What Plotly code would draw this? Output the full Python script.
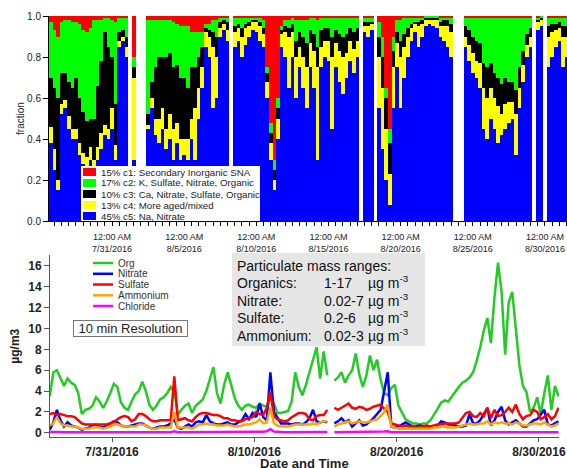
import pandas as pd
import plotly.graph_objects as go

# ---------------- data ----------------
# 6-hourly sample times (start of each interval)
times = pd.date_range("2016-07-26 15:00", periods=144, freq="6h")

N = None
# Fractions of each cluster class (top panel); None = no data
frac_c5 = [.38,.25,.15,.52,.55,.45,.40,.40,.32,.28,
           .27,.30,.25,.30,.35,.42,.40,.45,.30,.85,
           .88,.80,N,.30,N,N,N,.45,.55,.42,
           .38,.45,.35,.40,.30,.38,.30,.32,.30,.40,
           .30,.50,.65,.85,.80,.55,.60,.90,.93,.88,
           N,.85,.88,.80,.86,.90,.93,.92,.88,.85,
           .60,.30,.15,.40,.85,.80,.65,.80,.60,.75,
           .65,.55,.75,.65,.30,.75,.80,.78,.45,.75,
           .68,.62,.70,.78,.72,.80,N,.92,.90,.93,
           N,.55,.35,.20,.08,.55,.75,.55,.70,.80,
           .88,.92,.85,.90,.95,.96,.95,.94,.90,.88,
           .85,.80,N,N,N,.85,.78,.72,.70,.65,
           .45,.40,.50,.45,.38,.42,.45,.48,.50,.32,
           .55,.68,.80,.85,N,.93,.95,N,.75,.80,
           .85,.88,.75,.80]
frac_c4 = [.08,.10,.05,.05,.04,.06,.05,.05,.06,.05,
           .04,.06,.05,.06,.08,.05,.05,.10,.07,.03,
           .02,.05,N,.40,N,N,N,.02,.05,.08,
           .12,.10,.10,.12,.15,.10,.10,.08,.10,.10,
           .25,.15,.10,.07,.10,.30,.20,.04,.03,.05,
           N,.07,.06,.10,.08,.05,.04,.05,.07,.06,
           .08,.08,.05,.10,.06,.12,.25,.12,.20,.10,
           .15,.20,.12,.18,.45,.10,.08,.10,.35,.12,
           .15,.18,.12,.10,.12,.08,N,.03,.05,.03,
           N,.25,.30,.25,.15,.20,.12,.25,.15,.10,
           .06,.04,.10,.06,.03,.02,.03,.04,.05,.07,
           .10,.12,N,N,N,.05,.08,.10,.08,.12,
           .20,.20,.15,.15,.18,.10,.12,.10,.08,.20,
           .10,.08,.06,.05,N,.04,.03,N,.15,.12,
           .08,.06,.15,.10]
frac_c3 = [.24,.30,.40,.15,.13,.17,.20,.25,.22,.20,
           .18,.14,.20,.30,.35,.45,.40,.25,.20,.04,
           .03,.05,N,.05,N,N,N,.05,.08,.25,
           .30,.25,.35,.30,.30,.28,.30,.30,.25,.25,
           .20,.15,.10,.02,.03,.07,.10,.03,.02,.04,
           N,.03,.02,.04,.02,.02,.01,.01,.02,.03,
           .04,.05,.05,.05,.02,.03,.04,.04,.08,.07,
           .10,.12,.06,.08,.10,.08,.06,.06,.10,.06,
           .08,.10,.09,.06,.08,.06,N,.02,.02,.01,
           N,.10,.15,.15,.15,.08,.05,.08,.06,.04,
           .02,.01,.02,.02,.01,.01,.01,.01,.02,.03,
           .03,.04,N,N,N,.05,.07,.08,.10,.10,
           .12,.15,.12,.12,.14,.15,.13,.10,.10,.12,
           .10,.07,.05,.04,N,.01,.01,N,.05,.04,
           .03,.03,.05,.05]
frac_c2 = [.27,.28,.30,.25,.26,.30,.32,.27,.36,.40,
           .43,.44,.48,.32,.20,.07,.14,.18,.40,.07,
           .06,.09,N,.05,N,N,N,.46,.30,.23,
           .18,.18,.18,.16,.22,.20,.25,.25,.30,.17,
           .17,.12,.07,.02,.03,.06,.08,.02,.01,.02,
           N,.04,.03,.05,.03,.02,.01,.01,.02,.04,
           .03,.05,.05,.05,.02,.03,.04,.03,.10,.06,
           .08,.11,.06,.08,.13,.06,.05,.05,.09,.06,
           .08,.09,.08,.05,.07,.05,N,.02,.02,.02,
           N,.07,.10,.05,.07,.07,.06,.10,.08,.05,
           .03,.02,.02,.01,.01,.01,.01,.01,.02,.01,
           .01,.03,N,N,N,.04,.06,.09,.11,.12,
           .22,.24,.22,.27,.29,.32,.29,.31,.31,.35,
           .24,.16,.08,.05,N,.01,.01,N,.04,.03,
           .03,.02,.04,.04]
frac_c1 = [.03,.07,.10,.03,.02,.02,.03,.03,.04,.07,
           .08,.06,.02,.02,.02,.01,.01,.02,.03,.01,
           .01,.01,N,.20,N,N,N,.02,.02,.02,
           .02,.02,.02,.02,.03,.04,.05,.05,.05,.08,
           .08,.08,.08,.04,.04,.02,.02,.01,.01,.01,
           N,.01,.01,.01,.01,.01,.01,.01,.01,.02,
           .25,.52,.70,.40,.05,.02,.02,.01,.02,.02,
           .02,.02,.01,.01,.02,.01,.01,.01,.01,.01,
           .01,.01,.01,.01,.01,.01,N,.01,.01,.01,
           N,.03,.10,.35,.55,.10,.02,.02,.01,.01,
           .01,.01,.01,.01,0,0,0,0,.01,.01,
           .01,.01,N,N,N,.01,.01,.01,.01,.01,
           .01,.01,.01,.01,.01,.01,.01,.01,.01,.01,
           .01,.01,.01,.01,N,.01,0,N,.01,.01,
           .01,.01,.01,.01]

# Mass concentrations (bottom panel), ug/m3
org = [3.5,5.8,6.0,5.2,4.5,5.2,4.8,4.6,3.8,1.8,
       2.2,2.3,2.6,3.4,3.0,2.4,3.0,3.8,4.7,4.4,
       2.9,2.4,2.2,3.0,3.7,4.0,4.9,4.0,2.7,2.2,
       2.6,3.2,3.4,3.8,4.4,4.0,1.7,2.2,2.6,2.8,
       1.9,2.6,2.9,3.2,4.0,5.1,6.3,3.8,2.8,4.6,
       5.8,4.6,3.3,2.6,2.2,2.6,2.7,2.5,2.4,2.8,
       2.6,2.5,3.4,2.8,1.9,1.9,2.0,2.1,3.0,5.8,
       4.4,3.6,4.6,5.8,6.8,8.2,5.2,7.8,5.5,N,
       5.0,5.3,5.8,4.8,5.5,6.0,7.6,5.6,4.4,5.5,
       7.4,6.0,7.0,5.1,3.8,3.6,4.3,4.6,2.6,1.9,
       1.3,1.1,0.9,0.9,0.8,0.9,0.9,1.2,1.7,2.3,
       2.9,3.1,3.0,3.5,4.0,4.4,4.8,5.0,5.3,5.8,
       6.9,8.2,9.8,11.0,8.6,13.0,16.3,13.5,7.5,12.5,
       13.5,10.0,6.5,4.5,3.9,2.0,2.4,3.4,1.8,3.8,
       5.5,2.2,4.5,3.5]
nitrate = [0.3,1.0,2.2,1.2,0.6,1.0,0.7,0.6,0.5,0.3,
           0.4,0.5,0.7,0.8,0.6,0.5,0.7,0.9,1.1,1.0,
           0.7,0.6,0.6,0.7,0.8,0.9,0.9,0.7,0.5,0.4,
           0.5,0.6,0.6,0.7,0.9,1.3,0.5,0.4,0.6,0.8,
           0.6,1.0,1.1,1.0,1.7,1.1,0.9,0.8,0.8,0.9,
           1.0,0.8,0.8,1.0,1.2,1.8,1.3,1.9,1.5,2.8,
           1.5,1.2,5.8,2.0,1.4,0.9,0.9,0.9,0.8,0.9,
           0.9,0.8,1.0,1.4,2.2,1.1,1.0,1.1,1.0,N,
           0.9,1.1,1.4,1.0,1.2,0.6,0.9,1.2,0.7,0.8,
           1.1,1.4,1.8,2.2,4.0,5.8,0.6,0.5,0.6,0.8,
           1.0,0.8,0.6,0.6,0.7,0.6,0.6,0.6,0.6,0.7,
           1.1,1.0,0.8,0.8,0.7,0.6,0.6,0.7,1.8,0.9,
           0.9,1.2,1.8,2.4,0.7,1.2,2.0,2.5,1.2,0.8,
           1.0,1.2,0.9,0.6,0.6,0.9,1.2,1.3,1.8,2.2,
           0.8,0.7,0.9,1.1]
sulfate = [1.8,1.9,1.7,1.8,1.7,1.6,1.6,1.5,1.2,0.9,
           0.8,0.8,0.8,0.8,0.8,0.8,0.8,0.9,1.0,1.3,
           1.5,1.6,1.5,1.1,1.3,1.8,1.8,1.6,1.3,1.1,
           1.1,1.2,1.2,1.2,1.2,5.4,1.2,1.3,1.4,1.2,
           1.1,1.5,1.8,1.9,1.9,1.8,1.7,1.7,1.6,1.4,
           1.4,1.2,1.2,1.1,1.1,1.3,1.4,1.5,2.0,1.8,
           1.7,2.4,3.9,1.6,1.3,1.2,1.1,1.2,1.5,1.7,
           1.9,1.9,1.8,1.3,1.2,1.6,1.7,1.7,2.2,N,
           2.4,2.2,2.4,2.6,2.8,2.4,2.3,2.5,2.4,2.2,
           2.3,2.5,2.6,2.7,2.3,2.0,0.9,0.8,0.7,0.6,
           0.7,0.6,0.6,0.5,0.6,0.6,0.7,0.6,0.7,0.8,
           0.8,0.9,0.9,0.9,0.9,1.0,1.4,1.9,2.0,1.6,
           1.5,1.9,1.6,2.4,1.4,2.2,1.6,1.7,2.0,2.4,
           2.0,2.7,1.8,1.3,1.6,1.7,2.2,2.0,1.3,1.5,
           1.8,1.3,1.6,2.4]
ammonium = [0.7,0.9,1.5,0.9,0.7,0.7,0.6,0.6,0.5,0.4,
            0.4,0.4,0.5,0.5,0.5,0.4,0.5,0.6,0.8,0.8,
            0.7,0.6,0.6,0.6,0.6,0.8,0.8,0.7,0.5,0.4,
            0.4,0.5,0.5,0.5,0.5,2.0,0.5,0.5,0.5,0.5,
            0.4,0.6,0.8,0.8,0.9,0.8,0.8,0.7,0.7,0.7,
            0.8,0.7,0.6,0.6,0.7,0.8,0.8,0.9,1.0,1.3,
            0.9,1.0,2.4,0.9,0.7,0.6,0.6,0.6,0.7,0.8,
            0.8,0.8,0.8,0.8,0.9,0.8,1.0,1.1,1.1,N,
            0.6,0.8,0.9,1.0,1.1,0.9,1.0,1.1,1.0,1.0,
            1.1,1.2,1.3,1.6,2.0,2.7,0.6,0.5,0.4,0.4,
            0.4,0.4,0.4,0.4,0.4,0.4,0.4,0.4,0.5,0.5,
            0.6,0.6,0.5,0.5,0.5,0.6,0.7,0.8,0.9,0.8,
            0.8,0.9,0.9,1.1,0.8,1.0,0.9,1.0,0.9,0.9,
            0.8,1.0,0.9,0.7,0.7,0.8,0.9,0.9,0.8,1.0,
            0.8,0.6,0.7,0.9]
chloride = [0.08,0.10,0.12,0.08,0.06,0.06,0.05,0.05,0.05,0.04,
            0.04,0.04,0.05,0.05,0.04,0.04,0.05,0.05,0.06,0.06,
            0.05,0.05,0.05,0.05,0.06,0.06,0.06,0.05,0.04,0.04,
            0.04,0.05,0.05,0.05,0.05,0.15,0.05,0.05,0.05,0.05,
            0.04,0.05,0.06,0.06,0.07,0.07,0.06,0.06,0.05,0.05,
            0.06,0.05,0.05,0.05,0.06,0.07,0.08,0.08,0.10,0.10,
            0.10,0.15,0.35,0.12,0.08,0.06,0.06,0.05,0.05,0.05,
            0.05,0.05,0.05,0.06,0.06,0.06,0.07,0.07,0.07,N,
            0.06,0.06,0.06,0.06,0.06,0.06,0.06,0.06,0.06,0.06,
            0.07,0.07,0.08,0.10,0.12,0.15,0.05,0.05,0.05,0.05,
            0.05,0.05,0.05,0.05,0.05,0.05,0.05,0.05,0.05,0.05,
            0.05,0.05,0.05,0.05,0.05,0.05,0.05,0.05,0.06,0.05,
            0.05,0.05,0.06,0.06,0.05,0.05,0.06,0.06,0.05,0.05,
            0.05,0.06,0.05,0.05,0.05,0.05,0.06,0.06,0.05,0.05,
            0.05,0.05,0.05,0.06]

class_names = ["15% c1: Secondary Inorganic SNA",
               "17% c2: K, Sulfate, Nitrate, Organic",
               "10% c3: Ca, Nitrate, Sulfate, Organic",
               "13% c4: More aged/mixed",
               "45% c5: Na, Nitrate"]
class_colors = ["#ff0000", "#00ff00", "#000000", "#ffff00", "#0000ff"]
species_names = ["Org", "Nitrate", "Sulfate", "Ammonium", "Chloride"]
species_colors = ["#22cc22", "#0000ff", "#ff0000", "#ffa500", "#ff00ff"]
range_labels = ["Organics:", "Nitrate:", "Sulfate:", "Ammonium:"]
range_values = ["1-17", "0.02-7", "0.2-6", "0.02-3"]

# ---------------- figure ----------------
W, H = 567, 468
L = 49
PW = W - L
FONT = "Arial, Liberation Sans, sans-serif"
DAY = 86400000


def px(x):
    return (x - L) / PW


def py(y):
    return 1 - y / H


fig = go.Figure()

bar_x = times + pd.Timedelta(hours=3)
fracs = [frac_c1, frac_c2, frac_c3, frac_c4, frac_c5]
for i in [4, 3, 2, 1, 0]:
    fig.add_trace(go.Bar(x=bar_x, y=fracs[i], width=DAY / 4, name=class_names[i],
                         marker=dict(color=class_colors[i], line=dict(width=0)),
                         xaxis="x", yaxis="y", showlegend=False, hoverinfo="skip"))

series = [org, nitrate, sulfate, ammonium, chloride]
for i in range(5):
    fig.add_trace(go.Scatter(x=times, y=series[i], mode="lines", name=species_names[i],
                             line=dict(color=species_colors[i], width=2.5),
                             xaxis="x2", yaxis="y2", showlegend=False, hoverinfo="skip"))

shapes = []
annotations = []

# top legend (white box with swatches)
shapes.append(dict(type="rect", xref="paper", yref="paper", x0=px(81), x1=px(260),
                   y0=py(221), y1=py(166), fillcolor="white", line=dict(width=0), layer="above"))
rows_top = [172, 183, 194, 205, 216]
for i in range(5):
    yc = rows_top[i]
    shapes.append(dict(type="rect", xref="paper", yref="paper", x0=px(83), x1=px(96),
                       y0=py(yc + 4), y1=py(yc - 4), fillcolor=class_colors[i],
                       line=dict(width=0), layer="above"))
    annotations.append(dict(text=class_names[i], xref="paper", yref="paper", x=px(99), y=py(yc),
                            xanchor="left", yanchor="middle", showarrow=False,
                            font=dict(size=9.7, color="#222", family=FONT)))

# bottom legend (line samples)
rows_bot = [263, 273.8, 284.5, 295.3, 306]
for i in range(5):
    yc = rows_bot[i]
    shapes.append(dict(type="line", xref="paper", yref="paper", x0=px(93), x1=px(113),
                       y0=py(yc), y1=py(yc), line=dict(color=species_colors[i], width=2.5)))
    annotations.append(dict(text=species_names[i], xref="paper", yref="paper", x=px(116), y=py(yc),
                            xanchor="left", yanchor="middle", showarrow=False,
                            font=dict(size=10, color="#333", family=FONT)))

# 10 min resolution box
annotations.append(dict(text="10 min Resolution", xref="paper", yref="paper", x=px(130.5), y=py(328.5),
                        xanchor="center", yanchor="middle", showarrow=False, width=111, height=13,
                        bordercolor="#777", borderwidth=1, borderpad=1,
                        font=dict(size=13, color="#222", family=FONT)))

# particulate mass range box
shapes.append(dict(type="rect", xref="paper", yref="paper", x0=px(232), x1=px(425),
                   y0=py(346), y1=py(253), fillcolor="#e6e6e6", line=dict(width=0), layer="above"))
annotations.append(dict(text="Particulate mass ranges:", xref="paper", yref="paper", x=px(235),
                        y=py(265.5), xanchor="left", yanchor="middle", showarrow=False,
                        font=dict(size=14, color="#111", family=FONT)))
rows_box = [283, 301, 318, 336]
for i in range(4):
    yc = rows_box[i]
    annotations.append(dict(text=range_labels[i], xref="paper", yref="paper", x=px(235), y=py(yc),
                            xanchor="left", yanchor="middle", showarrow=False,
                            font=dict(size=14, color="#111", family=FONT)))
    annotations.append(dict(text=range_values[i], xref="paper", yref="paper", x=px(322), y=py(yc),
                            xanchor="left", yanchor="middle", showarrow=False,
                            font=dict(size=14, color="#111", family=FONT)))
    annotations.append(dict(text="µg m<sup>-3</sup>", xref="paper", yref="paper", x=px(366), y=py(yc - 1),
                            xanchor="left", yanchor="middle", showarrow=False,
                            font=dict(size=14, color="#111", family=FONT)))

# bottom x-axis title (close to the page edge, as in the reference)
annotations.append(dict(text="<b>Date and Time</b>", xref="paper", yref="paper", x=px(304), y=py(463),
                        xanchor="center", yanchor="middle", showarrow=False,
                        font=dict(size=13, color="#222", family=FONT)))

fig.update_layout(
    width=W, height=H,
    margin=dict(l=L, r=0, t=0, b=0, autoexpand=False),
    paper_bgcolor="white", plot_bgcolor="white",
    barmode="stack", bargap=0,
    showlegend=False, hovermode=False,
    font=dict(family=FONT, color="#222"),
    shapes=shapes, annotations=annotations,
    xaxis=dict(domain=[0, 1], anchor="y", type="date", automargin=False,
               range=["2016-07-26 15:07", "2016-08-31 12:43"],
               showline=True, linecolor="#000", linewidth=1, mirror=False,
               ticks="outside", ticklen=4, tickcolor="#000", tickwidth=1,
               tick0="2016-07-31", dtick=5 * DAY,
               tickformat="%I:%M %p<br>%-m/%-d/%Y", ticklabelstandoff=3,
               tickfont=dict(size=9, color="#222", family=FONT),
               minor=dict(dtick=DAY / 2, tick0="2016-07-31", ticks="outside", ticklen=4,
                          tickcolor="#000", showgrid=False),
               showgrid=False, zeroline=False),
    yaxis=dict(domain=[py(221), py(16)], anchor="x", range=[0, 1], automargin=False,
               showline=True, linecolor="#000", linewidth=1,
               ticks="outside", ticklen=5, tickcolor="#000",
               tick0=0, dtick=0.2, tickformat=".1f",
               tickfont=dict(size=10, color="#222", family=FONT),
               title=dict(text="fraction", font=dict(size=10, color="#222", family=FONT), standoff=0),
               showgrid=False, zeroline=False),
    xaxis2=dict(domain=[px(50), px(559)], anchor="y2", type="date", automargin=False,
                range=["2016-07-26 15:22", "2016-08-31 09:50"],
                showline=True, linecolor="#555", linewidth=1,
                ticks="outside", ticklen=4, tickcolor="#555",
                tick0="2016-07-31", dtick=10 * DAY, tickformat="%-m/%-d/%Y",
                tickfont=dict(size=12, color="#222", family=FONT, weight="bold"),
                showgrid=False, zeroline=False),
    yaxis2=dict(domain=[py(437), py(255.4)], anchor="x2", range=[-0.4, 17], automargin=False,
                showline=True, linecolor="#555", linewidth=1,
                ticks="outside", ticklen=5, tickcolor="#555",
                tick0=0, dtick=2,
                tickfont=dict(size=12, color="#222", family=FONT, weight="bold"),
                title=dict(text="µg/m3", font=dict(size=12, color="#222", family=FONT, weight="bold"),
                           standoff=6),
                showgrid=False, zeroline=False),
)

fig.write_html("out.html", config={"displayModeBar": False},
               post_script="document.body.style.margin='0px';")
